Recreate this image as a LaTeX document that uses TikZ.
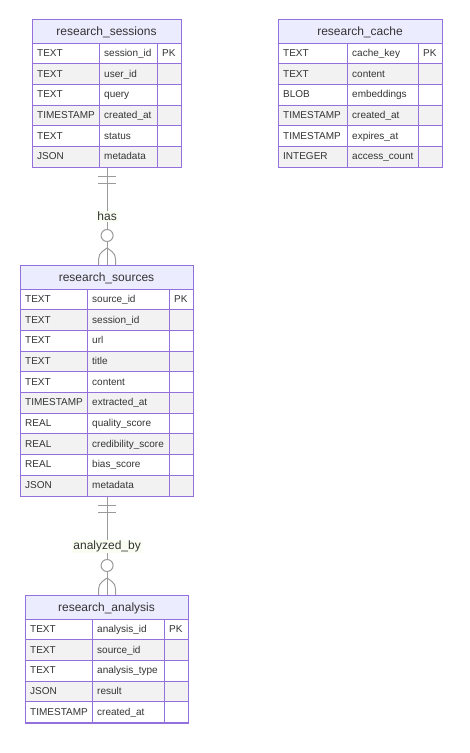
\documentclass[tikz,border=0pt]{standalone}
\usepackage{fontspec}
\setmainfont{Liberation Sans}
\usetikzlibrary{calc}

\definecolor{erborder}{HTML}{9370DB}
\definecolor{erhead}{HTML}{ECECFF}
\definecolor{erstripe}{HTML}{F2F2F2}
\definecolor{ertext}{HTML}{333333}
\definecolor{erline}{HTML}{9A9A9A}
\definecolor{erlabel}{HTML}{FAFEF2}

\tikzset{
  cell/.style={font=\fontsize{10}{12}\selectfont, text=ertext, anchor=base west, inner sep=0pt},
  title/.style={font=\fontsize{12}{14}\selectfont, text=ertext, anchor=base, inner sep=0pt},
  frame/.style={draw=erborder, line width=1.2pt, inner sep=0pt, anchor=north west},
  grid/.style={draw=erborder, line width=1pt},
  rel/.style={draw=erline, line width=1pt},
  rellabel/.style={font=\fontsize{12}{14}\selectfont, text=ertext, fill=erlabel, inner sep=1pt},
}

% header height and row height
\def\hh{24}
\def\rh{20.7}

% #1 name, #2 left, #3 top, #4 type width, #5 attribute width, #6 key width,
% #7 title, #8 rows as type/attribute/key
\newcommand\entity[8]{%
  \pgfmathsetmacro\tw{#4+#5+#6}%
  \pgfmathsetmacro\xb{#2+#4}%
  \pgfmathsetmacro\xc{#2+#4+#5}%
  \fill[erhead] (#2,#3) rectangle ++(\tw,\hh);
  \node[title] (#1-title) at (#2+\tw/2,#3+\hh/2+4.5) {#7};
  \foreach[count=\i] \ty/\nm/\ky in {#8}{
    \pgfmathsetmacro\rt{#3+\hh+(\i-1)*\rh}
    \ifodd\i \def\rowfill{white}\else\def\rowfill{erstripe}\fi
    \fill[\rowfill] (#2,\rt) rectangle ++(\tw,\rh);
    \draw[grid] (#2,\rt) rectangle (\xb,\rt+\rh)
                (\xb,\rt) rectangle (\xc,\rt+\rh)
                (\xc,\rt) rectangle (#2+\tw,\rt+\rh);
    \node[cell] (#1-type-\i) at (#2+5,\rt+\rh/2+3) {\ty};
    \node[cell] (#1-attr-\i) at (\xb+5,\rt+\rh/2+3) {\nm};
    \node[cell] (#1-key-\i) at (\xc+5,\rt+\rh/2+3) {\ky};
    \xdef\nrows{\i}
  }
  \pgfmathsetmacro\th{\hh+\nrows*\rh}%
  \node[frame, minimum width=\tw pt, minimum height=\th pt] (#1) at (#2,#3) {};
}

% #1 parent entity, #2 child entity, #3 label name, #4 label text
\newcommand\relation[4]{%
  \draw[rel] (#1.south) -- (#2.south |- #2.north);
  \draw[rel] ($(#1.south)+(-9,8)$) -- ++(18,0)
             ($(#1.south)+(-9,15)$) -- ++(18,0);
  \draw[rel] ($(#2.north)+(-8.5,0)$) .. controls ($(#2.north)+(-8.5,-11)$) .. ($(#2.north)+(0,-17)$)
             .. controls ($(#2.north)+(8.5,-11)$) .. ($(#2.north)+(8.5,0)$);
  \draw[rel, fill=white] ($(#2.north)+(0,-29.5)$) circle[radius=6];
  \node[rellabel] (#3) at ($(#1.south)!0.5!(#2.north)$) {#4};
}

\begin{document}
\begin{tikzpicture}[x=1pt, y=-1pt]
  \fill[white] (0,0) rectangle (469,753);
  \useasboundingbox (0,0) rectangle (469,753);

  \entity{sessions}{32}{19}{67}{58}{24}{research\_sessions}{
    TEXT/session\_id/PK, TEXT/user\_id/, TEXT/query/, TIMESTAMP/created\_at/,
    TEXT/status/, JSON/metadata/}

  \entity{cache}{278}{19}{69}{71}{24}{research\_cache}{
    TEXT/cache\_key/PK, TEXT/content/, BLOB/embeddings/, TIMESTAMP/created\_at/,
    TIMESTAMP/expires\_at/, INTEGER/access\_count/}

  \entity{sources}{20}{265}{67}{82}{24}{research\_sources}{
    TEXT/source\_id/PK, TEXT/session\_id/, TEXT/url/, TEXT/title/, TEXT/content/,
    TIMESTAMP/extracted\_at/, REAL/quality\_score/, REAL/credibility\_score/,
    REAL/bias\_score/, JSON/metadata/}

  \entity{analysis}{25}{595}{67}{72}{24}{research\_analysis}{
    TEXT/analysis\_id/PK, TEXT/source\_id/, TEXT/analysis\_type/, JSON/result/,
    TIMESTAMP/created\_at/}

  \relation{sessions}{sources}{has}{has}
  \relation{sources}{analysis}{analyzedby}{analyzed\_by}
\end{tikzpicture}
\end{document}
